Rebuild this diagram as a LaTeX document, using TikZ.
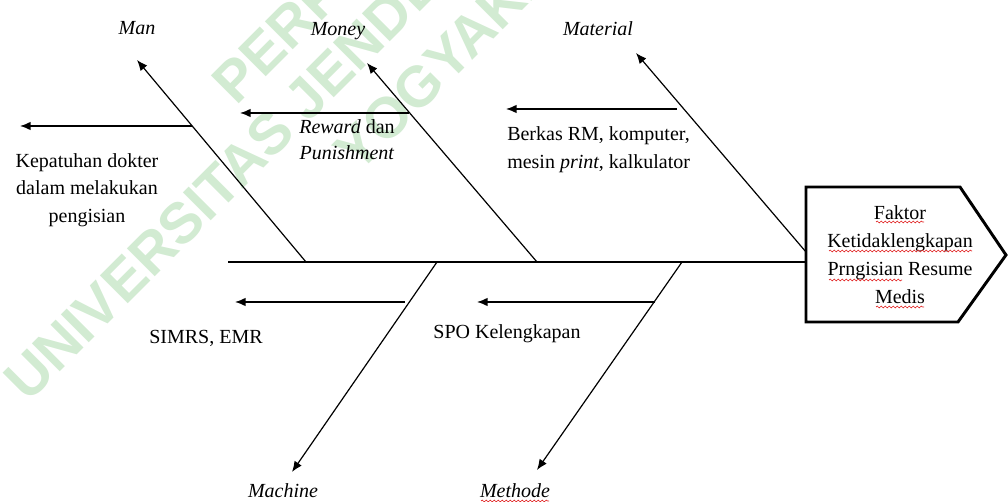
\documentclass[tikz,border=0pt]{standalone}
\usepackage{fontspec}
\setmainfont{Liberation Serif}
\newfontfamily\wmfont{Liberation Sans}
\usetikzlibrary{arrows.meta,decorations.pathmorphing}
\definecolor{wmgreen}{RGB}{210,235,210}
\definecolor{squig}{RGB}{225,40,40}
\begin{document}
\begin{tikzpicture}[x=0.75pt,y=-0.75pt,
  txt/.style={font=\fontsize{15}{20.5}\selectfont, inner sep=0pt},
  lbl/.style={font=\fontsize{15}{20.5}\selectfont\itshape, inner sep=0pt, anchor=base},
  boneline/.style={line width=0.9pt, -{Latex[length=8pt,width=6.5pt]}},
  subarrow/.style={line width=1.1pt, -{Latex[length=8pt,width=6.5pt]}},
  spineline/.style={line width=2pt},
  headbox/.style={line width=2.2pt, line join=miter},
  wmtext/.style={font=\wmfont\bfseries\fontsize{43}{43}\selectfont, text=wmgreen, rotate=45, anchor=base west, inner sep=0pt},
  squiggle/.style={draw=squig, line width=0.5pt, decorate, decoration={snake, segment length=3pt, amplitude=0.7pt}}
]
\useasboundingbox (0,0) rectangle (1008,502);
% watermark
\begin{scope}
\clip (0,0) rectangle (1008,502);
\node[wmtext] (wm1) at (236,107) {PERPUSTAKAAN};
\node[wmtext] (wm2) at (28,404) {UNIVERSITAS JENDERAL ACHMAD YANI};
\node[wmtext] (wm3) at (358,175) {YOGYAKARTA};
\end{scope}

% spine and head
\coordinate (tail) at (228,262);
\coordinate (headW) at (806,262);
\draw[spineline] (tail) -- (headW);
\draw[headbox] (806,187) -- (960,187) -- (1006,255) -- (958,322) -- (806,322) -- cycle;
\node[txt, align=center, font=\fontsize{15}{21}\selectfont] (head) at (900,255) {Faktor\\Ketidaklengkapan\\Prngisian Resume\\Medis};

% bones
\coordinate (manF) at (306,262);   \coordinate (manT) at (137,60);
\coordinate (monF) at (537,262);   \coordinate (monT) at (367,63);
\coordinate (matF) at (806,252);   \coordinate (matT) at (636,53);
\coordinate (macF) at (437,262);   \coordinate (macT) at (292,472);
\coordinate (metF) at (682,262);   \coordinate (metT) at (537,470);
\draw[boneline] (manF) -- (manT);
\draw[boneline] (monF) -- (monT);
\draw[boneline] (matF) -- (matT);
\draw[boneline] (macF) -- (macT);
\draw[boneline] (metF) -- (metT);

% category labels
\node[lbl] (man) at (137,35) {Man};
\node[lbl] (money) at (338,36) {Money};
\node[lbl] (material) at (598,36) {Material};
\node[lbl] (machine) at (283,498) {Machine};
\node[lbl] (methode) at (515,498) {Methode};

% sub-causes
\coordinate (kepS) at (192,126);  \coordinate (kepE) at (20,126);
\coordinate (rewS) at (409,113);  \coordinate (rewE) at (240,113);
\coordinate (berS) at (677,109);  \coordinate (berE) at (506,109);
\coordinate (simS) at (405,302);  \coordinate (simE) at (235,302);
\coordinate (spoS) at (655,302);  \coordinate (spoE) at (477,302);
\draw[subarrow] (kepS) -- (kepE);
\draw[subarrow] (rewS) -- (rewE);
\draw[subarrow] (berS) -- (berE);
\draw[subarrow] (simS) -- (simE);
\draw[subarrow] (spoS) -- (spoE);

\node[txt, align=center] (kep) at (87,190) {Kepatuhan dokter\\dalam melakukan\\pengisian};
\node[txt, align=center, font=\fontsize{15}{19.5}\selectfont] (rew) at (347,140) {\textit{Reward} dan\\\textit{Punishment}};
\node[txt, align=left, anchor=west, font=\fontsize{15}{21}\selectfont] (ber) at (507,150) {Berkas RM, komputer,\\mesin \textit{print}, kalkulator};
\node[txt, anchor=base] (sim) at (206,344) {SIMRS, EMR};
\node[txt, anchor=base] (spo) at (507,339) {SPO Kelengkapan};

% spell-check squiggles
\draw[squiggle] (876,222) -- (924,222);
\draw[squiggle] (829,251) -- (972,251);
\draw[squiggle] (829,280) -- (902,280);
\draw[squiggle] (876,307) -- (924,307);
\draw[squiggle] (481,501) -- (549,501);
\end{tikzpicture}
\end{document}
